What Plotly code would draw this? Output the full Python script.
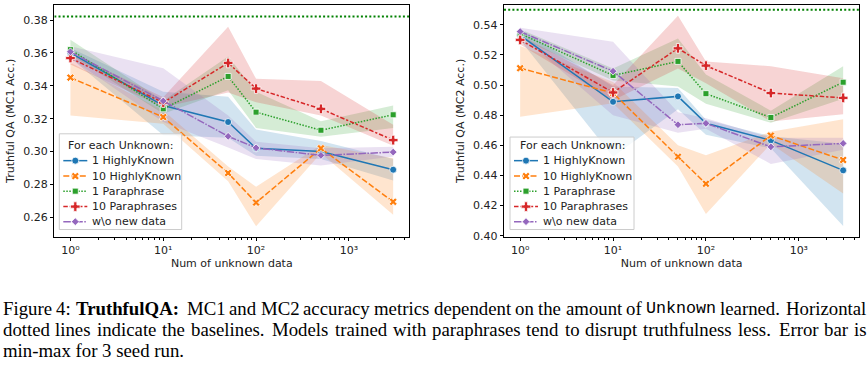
import plotly.graph_objects as go

W, H = 868, 371

x_vals = [1, 10, 50, 100, 500, 3000]
series_names = ["1 HighlyKnown", "10 HighlyKnown", "1 Paraphrase", "10 Paraphrases", "w\\o new data"]
legend_title = "For each Unknown:"

# MC1 means / min / max
mc1_hk1 = [0.360, 0.328, 0.318, 0.302, 0.300, 0.289]
mc1_hk1_lo = [0.357, 0.310, 0.3085, 0.2975, 0.2955, 0.2825]
mc1_hk1_hi = [0.363, 0.3364, 0.3334, 0.3134, 0.3065, 0.2955]

mc1_hk10 = [0.345, 0.321, 0.287, 0.269, 0.302, 0.2695]
mc1_hk10_lo = [0.322, 0.317, 0.282, 0.2546, 0.299, 0.2616]
mc1_hk10_hi = [0.354, 0.325, 0.291, 0.2786, 0.304, 0.2960]

mc1_p1 = [0.362, 0.326, 0.3457, 0.324, 0.313, 0.3224]
mc1_p1_lo = [0.359, 0.323, 0.3373, 0.3144, 0.309, 0.3144]
mc1_p1_hi = [0.368, 0.331, 0.3579, 0.3364, 0.3184, 0.328]

mc1_p10 = [0.3569, 0.3298, 0.3539, 0.3383, 0.326, 0.307]
mc1_p10_lo = [0.353, 0.327, 0.336, 0.330, 0.322, 0.3035]
mc1_p10_hi = [0.360, 0.333, 0.376, 0.3443, 0.343, 0.3164]

mc1_none = [0.3607, 0.3308, 0.3093, 0.3023, 0.2977, 0.2997]
mc1_none_lo = [0.357, 0.318, 0.3025, 0.2955, 0.2915, 0.297]
mc1_none_hi = [0.364, 0.3507, 0.322, 0.306, 0.302, 0.303]

mc1_baseline = 0.3822

# MC2 means / min / max
mc2_hk1 = [0.533, 0.4889, 0.4925, 0.4746, 0.4633, 0.4434]
mc2_hk1_lo = [0.530, 0.4525, 0.484, 0.467, 0.458, 0.4065]
mc2_hk1_hi = [0.537, 0.499, 0.498, 0.477, 0.466, 0.461]

mc2_hk10 = [0.5112, 0.4947, 0.4525, 0.4345, 0.4665, 0.4503]
mc2_hk10_lo = [0.4789, 0.488, 0.446, 0.4145, 0.461, 0.428]
mc2_hk10_hi = [0.526, 0.502, 0.460, 0.4535, 0.469, 0.4774]

mc2_p1 = [0.5341, 0.5064, 0.5157, 0.4943, 0.4785, 0.5019]
mc2_p1_lo = [0.531, 0.503, 0.499, 0.4876, 0.475, 0.491]
mc2_p1_hi = [0.537, 0.511, 0.5309, 0.507, 0.483, 0.5125]

mc2_p10 = [0.530, 0.4951, 0.5244, 0.5129, 0.4947, 0.4915]
mc2_p10_lo = [0.527, 0.490, 0.511, 0.5012, 0.4759, 0.4806]
mc2_p10_hi = [0.533, 0.500, 0.546, 0.5157, 0.5125, 0.5045]

mc2_none = [0.5355, 0.5092, 0.4737, 0.4746, 0.459, 0.4613]
mc2_none_lo = [0.533, 0.480, 0.4683, 0.471, 0.4477, 0.457]
mc2_none_hi = [0.538, 0.5287, 0.482, 0.478, 0.465, 0.465]

mc2_baseline = 0.550

x_ticks = [1, 10, 100, 1000]
x_ticktext = ["10\u2070", "10\u00b9", "10\u00b2", "10\u00b3"]
mc1_yticks = [0.26, 0.28, 0.30, 0.32, 0.34, 0.36, 0.38]
mc2_yticks = [0.40, 0.42, 0.44, 0.46, 0.48, 0.50, 0.52, 0.54]

caption_line1 = ["Figure", "4:", "**TruthfulQA:", "MC1", "and", "MC2", "accuracy", "metrics", "dependent",
                 "on", "the", "amount", "of", "`Unknown", "learned.", "Horizontal"]
caption_line2 = ["dotted", "lines", "indicate", "the", "baselines.", "Models", "trained", "with",
                 "paraphrases", "tend", "to", "disrupt", "truthfulness", "less.", "Error", "bar", "is"]
caption_line3 = "min-max for 3 seed run."

mc1_data = [
    (mc1_hk1, mc1_hk1_lo, mc1_hk1_hi),
    (mc1_hk10, mc1_hk10_lo, mc1_hk10_hi),
    (mc1_p1, mc1_p1_lo, mc1_p1_hi),
    (mc1_p10, mc1_p10_lo, mc1_p10_hi),
    (mc1_none, mc1_none_lo, mc1_none_hi),
]
mc2_data = [
    (mc2_hk1, mc2_hk1_lo, mc2_hk1_hi),
    (mc2_hk10, mc2_hk10_lo, mc2_hk10_hi),
    (mc2_p1, mc2_p1_lo, mc2_p1_hi),
    (mc2_p10, mc2_p10_lo, mc2_p10_hi),
    (mc2_none, mc2_none_lo, mc2_none_hi),
]

colors = ["#1f77b4", "#ff7f0e", "#2ca02c", "#d62728", "#9467bd"]
rgb = [(31, 119, 180), (255, 127, 14), (44, 160, 44), (214, 39, 40), (148, 103, 189)]
dashes = ["solid", "6px,2.25px", "1.5px,1.5px", "4.5px,1.9px,2.25px,1.9px", "7.5px,1.5px,1.5px,1.5px"]
symbols = ["circle", "x", "square", "cross", "diamond"]
msizes = [7, 7, 6, 8, 6]

fig = go.Figure()

panels = [
    ("x", "y", mc1_data, mc1_baseline),
    ("x2", "y2", mc2_data, mc2_baseline),
]

for xa, ya, data, base in panels:
    for i, (m, lo, hi) in enumerate(data):
        r, g, b = rgb[i]
        fig.add_trace(go.Scatter(
            x=x_vals + x_vals[::-1], y=hi + lo[::-1],
            fill="toself", fillcolor=f"rgba({r},{g},{b},0.2)",
            line=dict(width=0), mode="lines", hoverinfo="skip",
            showlegend=False, xaxis=xa, yaxis=ya))
    fig.add_trace(go.Scatter(
        x=[0.67, 4480], y=[base, base], mode="lines",
        line=dict(color="#008000", width=2, dash="2px,2.2px"),
        showlegend=False, xaxis=xa, yaxis=ya, hoverinfo="skip"))
    for i, (m, lo, hi) in enumerate(data):
        fig.add_trace(go.Scatter(
            x=x_vals, y=m, mode="lines+markers", name=series_names[i],
            line=dict(color=colors[i], width=1.5, dash=dashes[i]),
            marker=dict(symbol=symbols[i], size=msizes[i], color=colors[i],
                        line=dict(color="white", width=0.8)),
            xaxis=xa, yaxis=ya, showlegend=False))

# ---- manual legends drawn on a full-figure overlay axis (pixel units) ----
legend_boxes = [(59.3, 181.7, 136.0, 233.3), (510.0, 634.0, 139.3, 233.3)]
row_y = [163.3, 179.0, 194.3, 210.0, 225.3]
title_y = 148.3
legfont = dict(family="DejaVu Sans", size=11, color="#222")
annotations = []
for (x0, x1, y0, y1) in legend_boxes:
    fig.add_trace(go.Scatter(
        x=[x0, x1, x1, x0, x0], y=[y0, y0, y1, y1, y0], mode="lines",
        fill="toself", fillcolor="rgba(255,255,255,0.8)",
        line=dict(color="#cccccc", width=1), hoverinfo="skip",
        showlegend=False, xaxis="x3", yaxis="y3"))
    annotations.append(dict(text=legend_title, x=(x0 + x1) / 2, y=title_y, xref="x3", yref="y3",
                            xanchor="center", yanchor="middle", showarrow=False, font=legfont))
    lx0, lx1 = x0 + 4, x0 + 28
    for i, name in enumerate(series_names):
        fig.add_trace(go.Scatter(
            x=[lx0, lx1], y=[row_y[i], row_y[i]], mode="lines",
            line=dict(color=colors[i], width=1.5, dash=dashes[i]),
            hoverinfo="skip", showlegend=False, xaxis="x3", yaxis="y3"))
        fig.add_trace(go.Scatter(
            x=[(lx0 + lx1) / 2], y=[row_y[i]], mode="markers",
            marker=dict(symbol=symbols[i], size=msizes[i], color=colors[i],
                        line=dict(color="white", width=0.8)),
            hoverinfo="skip", showlegend=False, xaxis="x3", yaxis="y3"))
        annotations.append(dict(text=name, x=x0 + 31, y=row_y[i], xref="x3", yref="y3",
                                xanchor="left", yanchor="middle", showarrow=False, font=legfont))

minor_vals = [m * d for d in [1, 10, 100, 1000] for m in range(2, 10)]
axfont = dict(family="DejaVu Sans", size=11, color="#222")

def xaxis(domain, anchor):
    return dict(domain=domain, anchor=anchor, type="log",
                range=[-0.174, 3.651], tickvals=x_ticks, ticktext=x_ticktext,
                ticks="outside", ticklen=3.5, tickwidth=0.8, tickcolor="black",
                minor=dict(tickvals=minor_vals, ticks="outside", ticklen=2, tickwidth=0.6, tickcolor="black"),
                showline=True, linecolor="black", linewidth=0.8, mirror=True,
                showgrid=False, zeroline=False, tickfont=axfont,
                title=dict(text="Num of unknown data", font=axfont, standoff=2))

def yaxis(domain, anchor, rng, ticks, label):
    return dict(domain=domain, anchor=anchor, range=rng, tickvals=ticks,
                tickformat=".2f", ticks="outside", ticklen=3.5, tickwidth=0.8, tickcolor="black",
                showline=True, linecolor="black", linewidth=0.8, mirror=True,
                showgrid=False, zeroline=False, tickfont=axfont,
                title=dict(text=label, font=axfont, standoff=6))

ydom = [1 - 240.7 / H, 1 - 5 / H]

# ---- caption: justified lines using Times-compatible glyph widths ----
CAP_SIZE = 18.8
MONO_SIZE = 16.7
times = dict(zip("abcdefghijklmnopqrstuvwxyz",
                 [444, 500, 444, 500, 444, 333, 500, 500, 278, 278, 500, 278, 778,
                  500, 500, 500, 500, 333, 389, 278, 500, 500, 722, 500, 500, 444]))
times.update({"A": 722, "C": 667, "E": 611, "F": 556, "H": 722, "M": 889, "Q": 722, "T": 611,
              "U": 722, ".": 250, ":": 278, "-": 333, "1": 500, "2": 500, "3": 500, "4": 500})
times_bold = dict(T=667, r=444, u=556, t=333, h=556, f=333, l=278, Q=778, A=722)
times_bold[":"] = 333

def word_width(w):
    if w.startswith("`"):
        return 0.6 * MONO_SIZE * (len(w) - 1)
    if w.startswith("**"):
        return sum(times_bold[c] for c in w[2:]) / 1000 * CAP_SIZE
    return sum(times[c] for c in w) / 1000 * CAP_SIZE

def word_markup(w):
    if w.startswith("`"):
        return w[1:], dict(family="Liberation Mono", size=MONO_SIZE, color="black")
    if w.startswith("**"):
        return "<b>" + w[2:] + "</b>", dict(family="Liberation Serif", size=CAP_SIZE, color="black")
    return w, dict(family="Liberation Serif", size=CAP_SIZE, color="black")

left_edge, right_edge = 2.5, 866.5
cap_centers = [313.4, 334.6, 355.8]

for words, yy in zip([caption_line1, caption_line2], cap_centers[:2]):
    widths = [word_width(w) for w in words]
    weights = [1.4 if w[-1] in ".:" else 1.0 for w in words[:-1]]
    unit = (right_edge - left_edge - sum(widths)) / sum(weights)
    xpos = left_edge
    for k, w in enumerate(words):
        txt, fnt = word_markup(w)
        annotations.append(dict(text=txt, x=xpos, y=yy, xref="x3", yref="y3",
                                xanchor="left", yanchor="middle", showarrow=False,
                                font=fnt, borderpad=0, xshift=-1))
        if k < len(weights):
            xpos += widths[k] + unit * weights[k]

annotations.append(dict(text=caption_line3, x=left_edge, y=cap_centers[2], xref="x3", yref="y3",
                        xanchor="left", yanchor="middle", showarrow=False,
                        font=dict(family="Liberation Serif", size=CAP_SIZE, color="black"),
                        borderpad=0, xshift=-1))

fig.update_layout(
    width=W, height=H, margin=dict(l=0, r=0, t=0, b=0),
    plot_bgcolor="rgba(0,0,0,0)", paper_bgcolor="white",
    showlegend=False,
    xaxis=xaxis([54.3 / W, 409.3 / W], "y"),
    yaxis=yaxis(ydom, "x", [0.2482, 0.3892], mc1_yticks, "Truthful QA (MC1 Acc.)"),
    xaxis2=xaxis([504 / W, 859.3 / W], "y2"),
    yaxis2=yaxis(ydom, "x2", [0.3993, 0.5532], mc2_yticks, "Truthful QA (MC2 Acc.)"),
    xaxis3=dict(domain=[0, 1], anchor="y3", range=[0, W], visible=False, fixedrange=True),
    yaxis3=dict(domain=[0, 1], anchor="x3", range=[H, 0], visible=False, fixedrange=True),
    annotations=annotations,
)

fig.write_html("out.html", config={"displayModeBar": False},
               post_script="document.body.style.margin='0';document.body.style.overflow='hidden';")
